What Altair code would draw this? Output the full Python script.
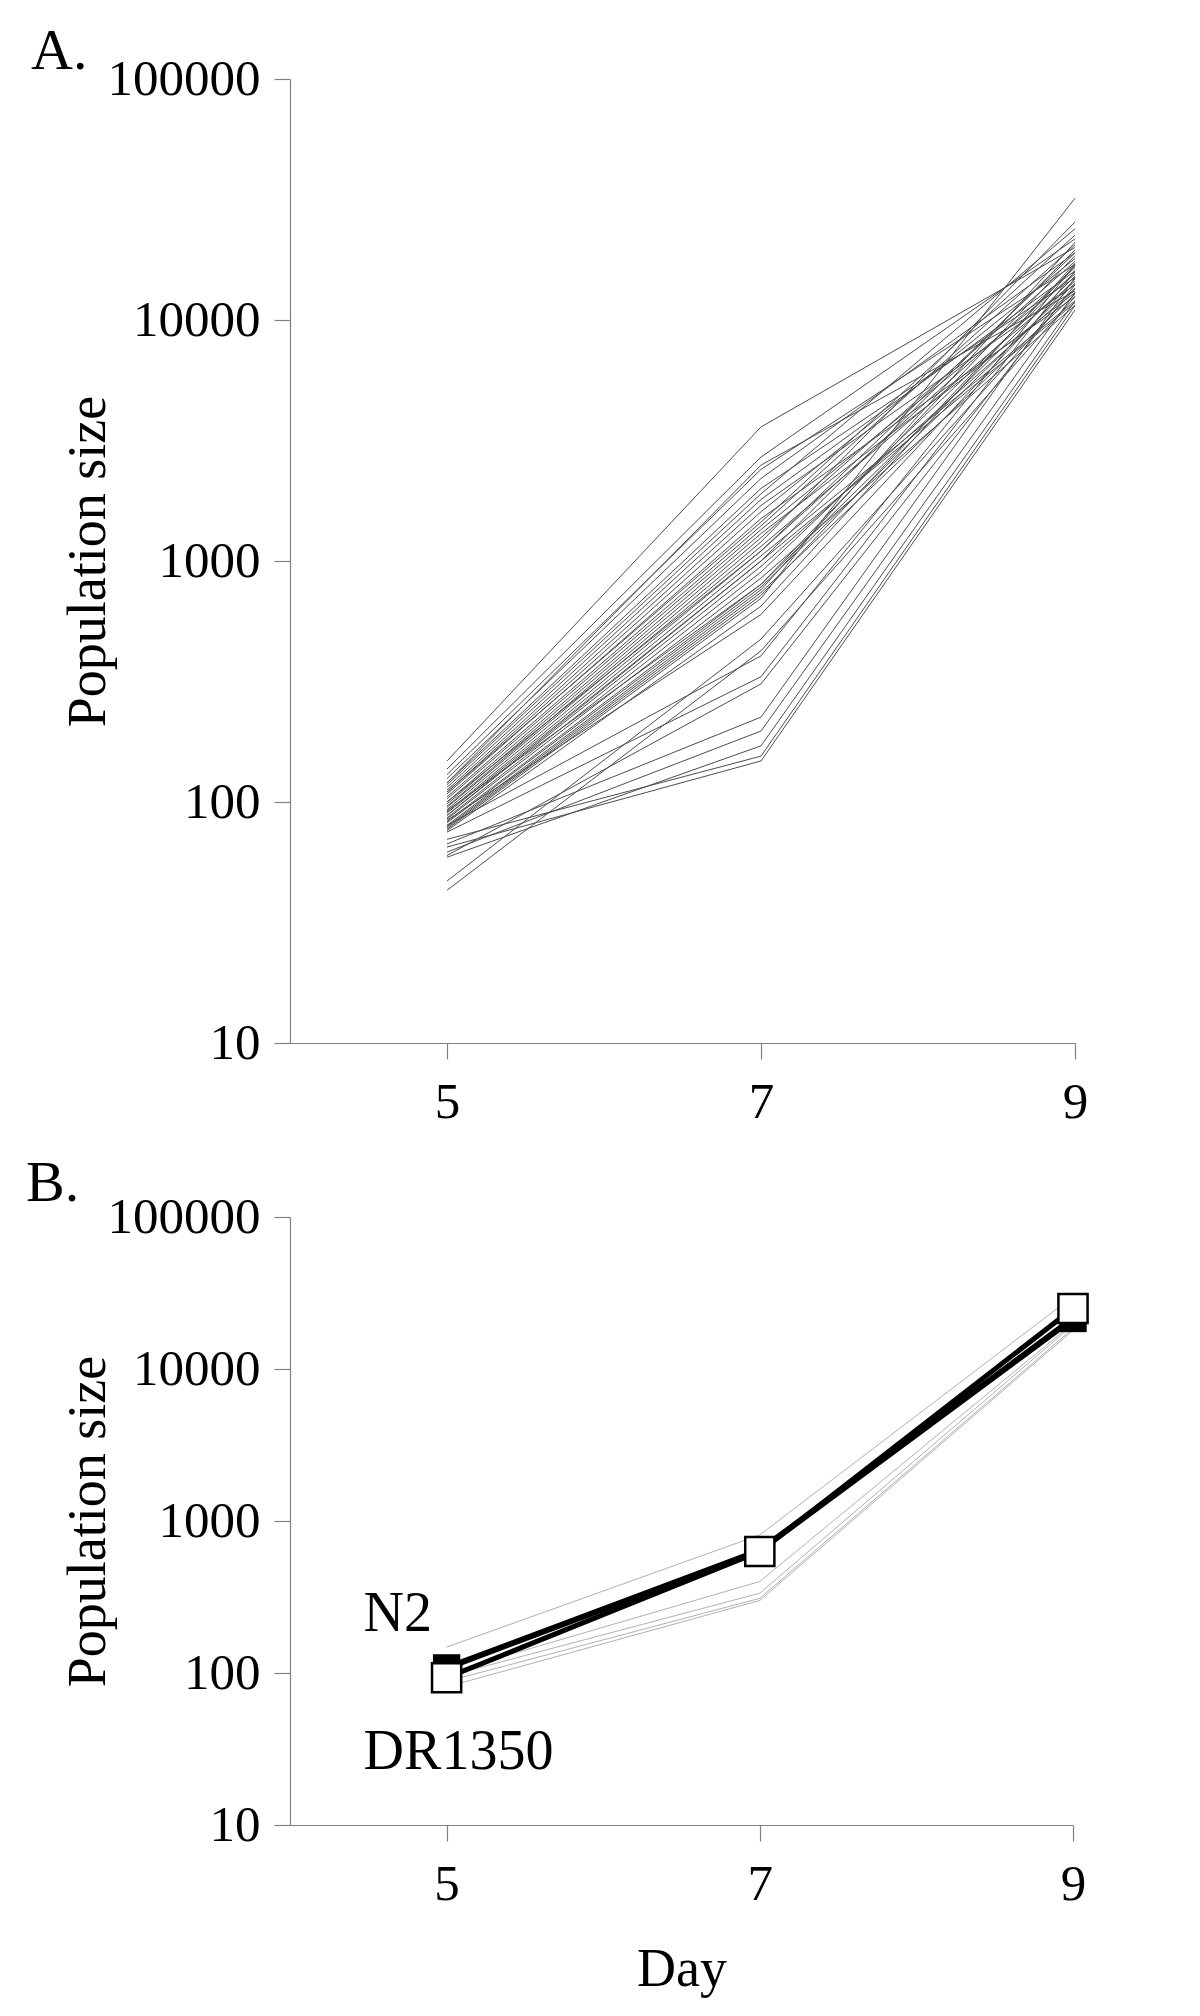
import altair as alt
import pandas as pd

# ---------------- data ----------------
days = [5, 7, 9]

# Panel A: individual populations, values at day 5, 7, 9
a_day5 = [148, 137, 130, 125, 120, 118, 115, 112, 110, 108,
          105, 103, 100, 98, 96, 95, 93, 91, 90, 88,
          86, 85, 83, 82, 80, 79, 78, 77, 76, 120,
          110, 100, 92, 88, 84, 67, 62, 59, 70, 65,
          60, 75, 43, 47, 80]
a_day7 = [3600, 2700, 2400, 2200, 2000, 1900, 1800, 1700, 1600, 1500,
          1400, 1350, 1300, 1250, 1200, 1150, 1100, 1050, 1000, 950,
          900, 850, 800, 780, 760, 740, 720, 700, 650, 2500,
          1450, 1100, 800, 1000, 600, 225, 197, 171, 155, 148,
          309, 331, 424, 474, 404]
a_day9 = [20000, 21700, 17000, 19000, 15000, 23900, 16000, 14000, 18000, 12500,
          20500, 15500, 13000, 17500, 25500, 14500, 16500, 12000, 19500, 13500,
          15800, 11500, 18500, 14200, 21000, 12800, 16800, 32000, 17200, 13200,
          22500, 19000, 15200, 11800, 14800, 15000, 13000, 12000, 11500, 11000,
          14000, 16000, 12500, 13500, 17000]

# Panel B: strain means and background lines
n2_values = [108, 640, 21500]
dr1350_values = [93, 630, 25000]
b_gray_day5 = [148, 100, 95, 88, 81]
b_gray_day7 = [810, 400, 335, 310, 300]
b_gray_day9 = [30000, 20000, 19500, 18500, 18000]

strain_labels = ["N2", "DR1350"]
label_day = [4.47, 4.47]
label_size = [245, 30]

y_ticks = [10, 100, 1000, 10000, 100000]

# ---------------- tables ----------------
rows_a = []
for i in range(len(a_day5)):
    for d, v in zip(days, (a_day5[i], a_day7[i], a_day9[i])):
        rows_a.append({"line": i, "day": d, "size": v})
df_a = pd.DataFrame(rows_a)

rows_g = []
for i in range(len(b_gray_day5)):
    for d, v in zip(days, (b_gray_day5[i], b_gray_day7[i], b_gray_day9[i])):
        rows_g.append({"line": i, "day": d, "size": v})
df_g = pd.DataFrame(rows_g)

df_n2 = pd.DataFrame({"day": days, "size": n2_values})
df_dr = pd.DataFrame({"day": days, "size": dr1350_values})
df_lab = pd.DataFrame({"day": label_day, "size": label_size, "text": strain_labels})

FONT = "Liberation Serif"

def x_enc(title=None):
    return alt.X("day:Q",
                 scale=alt.Scale(domain=[4, 9], nice=False, zero=False),
                 axis=alt.Axis(values=days, format="d", title=title,
                               tickSize=16, labelPadding=18, titlePadding=33))

def y_enc():
    return alt.Y("size:Q",
                 scale=alt.Scale(type="log", domain=[10, 100000], nice=False),
                 axis=alt.Axis(values=y_ticks, format="d", title="Population size",
                               tickSize=16, labelPadding=14, titlePadding=-8))

# ---------------- panel A ----------------
panel_a = alt.Chart(df_a).mark_line(color="#4d4d4d", strokeWidth=1).encode(
    x=x_enc(), y=y_enc(), detail="line:N"
).properties(
    width=785, height=964,
    title=alt.TitleParams("A.", anchor="start", frame="group", dx=-259,
                          fontSize=58, offset=-28, font=FONT, fontWeight="normal")
)

# ---------------- panel B ----------------
base_b = alt.Chart(df_g)
gray_b = base_b.mark_line(color="#b0b0b0", strokeWidth=1).encode(
    x=x_enc("Day"), y=y_enc(), detail="line:N")

n2_line = alt.Chart(df_n2).mark_line(color="black", strokeWidth=6).encode(
    x="day:Q", y="size:Q")
n2_pts = alt.Chart(df_n2).mark_point(shape="square", filled=True, color="black",
                                     size=750, opacity=1).encode(x="day:Q", y="size:Q")
dr_line = alt.Chart(df_dr).mark_line(color="black", strokeWidth=5).encode(
    x="day:Q", y="size:Q")
dr_pts = alt.Chart(df_dr).mark_point(shape="square", filled=True, fill="white",
                                     stroke="black", strokeWidth=2.5, size=850,
                                     opacity=1).encode(x="day:Q", y="size:Q")
labels_b = alt.Chart(df_lab).mark_text(align="left", baseline="middle", fontSize=56,
                                       font=FONT, color="black").encode(
    x="day:Q", y="size:Q", text="text:N")

panel_b = alt.layer(gray_b, n2_line, dr_line, n2_pts, dr_pts, labels_b).properties(
    width=783, height=608,
    title=alt.TitleParams("B.", anchor="start", frame="group", dx=-264,
                          fontSize=58, offset=-22, font=FONT, fontWeight="normal")
)

chart = alt.vconcat(panel_a, panel_b, spacing=28).properties(
    padding={"left": 18, "top": 15, "right": 10, "bottom": 5}
).configure(font=FONT).configure_axis(
    grid=False, domainColor="#808080", tickColor="#808080", domainWidth=1.2,
    tickWidth=1.2, labelFont=FONT, titleFont=FONT, labelFontSize=51,
    titleFontSize=54, labelColor="black", titleColor="black",
    titleFontWeight="normal", labelFlush=False, labelOverlap=False
).configure_view(stroke=None)

chart.save("out.html", embed_options={"renderer": "svg", "actions": False})
